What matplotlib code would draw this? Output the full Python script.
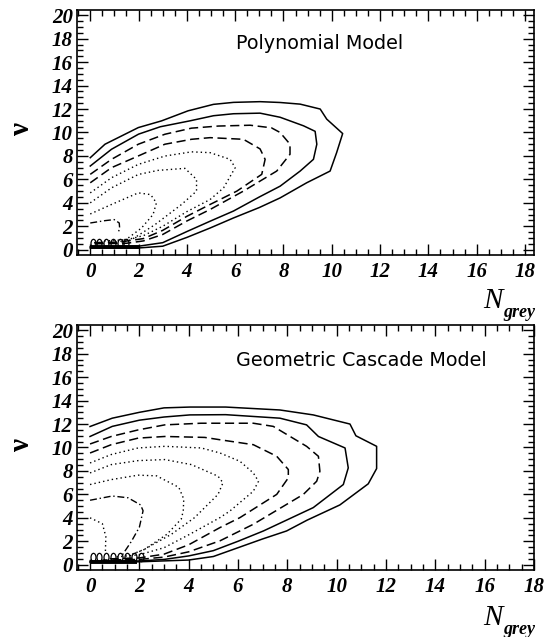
import matplotlib
matplotlib.use("Agg")
import matplotlib.pyplot as plt
from matplotlib.ticker import MultipleLocator
from matplotlib.path import Path
from matplotlib.transforms import Affine2D

# ---------------- data ----------------
# Top panel: Polynomial Model, contour lines (outer -> inner)
t1_x = [0, 0.61, 1.99, 2.95, 4.05, 5.1, 5.93, 7.03, 7.86, 8.69, 9.52, 9.79, 10.45, 10.2, 9.93, 8.96, 7.86, 7.0, 5.93, 4.96, 4.0, 3.0, 2.0, 0]
t1_y = [7.85, 9.0, 10.42, 10.99, 11.85, 12.4, 12.57, 12.63, 12.56, 12.42, 12.0, 11.14, 9.91, 8.28, 6.71, 5.71, 4.42, 3.6, 2.71, 1.85, 1.05, 0.3, 0.15, 0.15]
t2_x = [0, 0.88, 2.0, 2.9, 4.14, 5.1, 5.93, 7.03, 7.86, 8.83, 9.31, 9.38, 9.24, 8.69, 7.86, 7.0, 5.93, 4.96, 4.0, 3.0, 2.0, 0]
t2_y = [7.14, 8.57, 9.86, 10.49, 11.0, 11.43, 11.6, 11.65, 11.3, 10.57, 10.1, 9.0, 7.71, 6.71, 5.42, 4.5, 3.3, 2.43, 1.55, 0.6, 0.3, 0.25]
t3_x = [0, 0.88, 1.99, 3.09, 4.19, 5.3, 6.62, 7.5, 7.86, 8.27, 8.27, 7.72, 6.34, 4.96, 4.0, 3.0, 2.2, 1.5, 0]
t3_y = [6.43, 7.71, 9.0, 9.85, 10.37, 10.55, 10.62, 10.4, 10.0, 9.0, 8.14, 6.71, 5.0, 3.43, 2.45, 1.3, 0.75, 0.55, 0.5]
t4_x = [0, 0.88, 1.99, 3.09, 4.19, 4.96, 6.34, 7.03, 7.24, 7.1, 6.07, 4.96, 4.0, 3.0, 2.2, 1.2, 0]
t4_y = [5.71, 7.0, 8.0, 9.0, 9.42, 9.56, 9.42, 8.6, 7.71, 6.43, 5.0, 3.86, 2.85, 1.65, 0.95, 0.65, 0.6]
t5_x = [0, 0.88, 1.99, 3.09, 4.19, 4.96, 5.79, 6.0, 5.52, 4.96, 4.0, 3.0, 2.2, 1.5, 0.6]
t5_y = [4.85, 6.14, 7.28, 7.99, 8.35, 8.28, 7.71, 7.0, 5.28, 4.28, 3.25, 2.0, 1.2, 0.85, 0.75]
t6_x = [0, 0.88, 1.99, 2.81, 3.92, 4.4, 4.4, 3.78, 2.68, 1.71, 1.3]
t6_y = [4.0, 5.28, 6.42, 6.77, 6.94, 6.0, 5.0, 3.86, 2.14, 0.86, 0.6]
t7_x = [0, 0.88, 1.99, 2.5, 2.74, 2.6, 2.12, 1.57, 1.25]
t7_y = [3.05, 3.86, 4.85, 4.7, 4.0, 3.0, 1.85, 1.0, 0.7]
t8_x = [0, 0.61, 0.99, 1.2, 1.22, 1.15]
t8_y = [2.28, 2.48, 2.57, 2.28, 1.75, 1.5]
t_fringe_x = [0.1, 0.38, 0.66, 0.94, 1.22, 1.5]
t_fringe_y = [0.6, 0.6, 0.6, 0.6, 0.6, 0.6]
t_bar_x = [0.0, 2.0]
t_bar_y = [0.2, 0.2]

# Bottom panel: Geometric Cascade Model
b1_x = [0, 0.9, 2.0, 3.0, 4.05, 5.5, 7.7, 9.05, 10.54, 10.78, 11.62, 11.62, 11.28, 10.13, 8.8, 7.97, 7.0, 6.0, 5.0, 4.0, 2.0, 0]
b1_y = [11.79, 12.5, 13.0, 13.38, 13.45, 13.45, 13.2, 12.78, 12.0, 11.0, 10.1, 8.2, 6.9, 5.1, 3.8, 2.88, 2.2, 1.45, 0.7, 0.4, 0.25, 0.2]
b2_x = [0, 0.9, 2.0, 3.0, 4.05, 5.5, 7.7, 8.78, 9.26, 10.34, 10.47, 10.27, 9.05, 7.03, 6.0, 5.0, 4.0, 3.0, 2.0, 0]
b2_y = [10.94, 11.8, 12.33, 12.6, 12.78, 12.8, 12.5, 11.93, 10.94, 9.96, 8.26, 6.84, 4.87, 2.88, 2.0, 1.2, 0.75, 0.45, 0.32, 0.3]
b3_x = [0, 0.86, 1.95, 3.03, 4.5, 5.5, 6.62, 7.43, 8.78, 9.26, 9.32, 9.19, 8.65, 6.62, 5.27, 4.0, 3.0, 2.0, 0.5]
b3_y = [10.3, 10.94, 11.5, 11.93, 12.07, 12.07, 12.07, 11.8, 10.1, 9.25, 7.97, 7.12, 6.0, 3.45, 2.04, 1.1, 0.65, 0.45, 0.4]
b4_x = [0, 0.86, 1.95, 3.03, 4.65, 5.27, 6.62, 7.57, 8.04, 8.04, 7.57, 6.08, 5.27, 4.0, 3.0, 2.0, 0.8]
b4_y = [9.53, 10.24, 10.8, 10.94, 10.86, 10.66, 10.24, 9.25, 8.12, 7.41, 6.0, 4.02, 3.17, 1.7, 0.9, 0.58, 0.5]
b5_x = [0, 0.86, 1.95, 3.03, 4.51, 5.27, 6.08, 6.62, 6.83, 6.62, 5.67, 5.27, 4.0, 3.0, 2.0, 1.0]
b5_y = [8.68, 9.4, 9.96, 10.1, 9.96, 9.53, 8.82, 7.83, 7.12, 6.27, 4.58, 4.02, 2.55, 1.45, 0.85, 0.65]
b6_x = [0, 0.86, 1.95, 3.03, 4.11, 5.19, 5.39, 5.19, 4.24, 3.3, 2.22, 1.6]
b6_y = [7.83, 8.54, 8.88, 8.97, 8.54, 7.55, 6.99, 6.0, 4.02, 2.6, 1.33, 0.8]
b7_x = [0, 0.86, 1.95, 2.7, 3.6, 3.8, 3.78, 3.7, 3.12, 2.2, 1.74]
b7_y = [6.84, 7.26, 7.64, 7.58, 6.6, 5.6, 4.6, 3.9, 2.6, 1.3, 0.9]
b8_x = [0, 0.9, 1.54, 2.05, 2.15, 2.0, 1.68, 1.3]
b8_y = [5.5, 5.86, 5.71, 5.1, 4.6, 3.2, 2.0, 0.8]
b9_x = [0, 0.5, 0.64, 0.62]
b9_y = [4.0, 3.5, 2.4, 0.9]
b_fringe_x = [0.1, 0.38, 0.66, 0.94, 1.22, 1.5, 1.78, 2.06]
b_fringe_y = [0.65, 0.65, 0.65, 0.65, 0.65, 0.65, 0.65, 0.65]
b_bar_x = [0.0, 1.9]
b_bar_y = [0.2, 0.2]

x_ticks = [0, 2, 4, 6, 8, 10, 12, 14, 16, 18]
y_ticks = [0, 2, 4, 6, 8, 10, 12, 14, 16, 18, 20]
titles = ["Polynomial Model", "Geometric Cascade Model"]

# ---------------- styles ----------------
SOLID = dict(ls="-", lw=1.1)
DASH = dict(ls=(0, (6, 3)), lw=1.1)
DOT = dict(ls=(0, (1, 2.2)), lw=1.0)
DASHDOT = dict(ls=(0, (5, 2, 1, 2)), lw=1.0)

tickfont = dict(family="Liberation Serif", weight="bold", style="italic", size=15)

fig = plt.figure(figsize=(5.59, 6.37), dpi=100)
ax_top = fig.add_axes([0.1377, 0.5997, 0.8175, 0.3846])
ax_bot = fig.add_axes([0.1377, 0.1052, 0.8175, 0.3846])

top_lines = [(t1_x, t1_y, SOLID), (t2_x, t2_y, SOLID), (t3_x, t3_y, DASH), (t4_x, t4_y, DASH),
             (t5_x, t5_y, DOT), (t6_x, t6_y, DOT), (t7_x, t7_y, DOT), (t8_x, t8_y, DASHDOT)]
bot_lines = [(b1_x, b1_y, SOLID), (b2_x, b2_y, SOLID), (b3_x, b3_y, DASH), (b4_x, b4_y, DASH),
             (b5_x, b5_y, DOT), (b6_x, b6_y, DOT), (b7_x, b7_y, DOT), (b8_x, b8_y, DASHDOT),
             (b9_x, b9_y, DOT)]

oval = Affine2D().scale(0.6, 1.0).transform_path(Path.unit_circle())

def style_axes(ax, xlim):
    ax.set_xlim(*xlim)
    ax.set_ylim(-0.45, 20.45)
    ax.set_xticks(x_ticks)
    ax.set_yticks(y_ticks)
    ax.xaxis.set_minor_locator(MultipleLocator(0.5))
    ax.yaxis.set_minor_locator(MultipleLocator(0.5))
    ax.tick_params(which="both", direction="in", top=True, right=True, color="black")
    ax.tick_params(which="major", length=8, width=1.0)
    ax.tick_params(which="minor", length=4, width=1.0)
    ax.tick_params(axis="y", pad=3)
    ax.tick_params(axis="x", pad=5)
    for s in ax.spines.values():
        s.set_linewidth(1.2)
    ax.set_xticklabels([str(v) for v in x_ticks], fontdict=tickfont)
    ax.set_yticklabels([str(v) for v in y_ticks], fontdict=tickfont)

for ax, lines, fx, fy, bx, by, xlim in [
    (ax_top, top_lines, t_fringe_x, t_fringe_y, t_bar_x, t_bar_y, (-0.55, 18.37)),
    (ax_bot, bot_lines, b_fringe_x, b_fringe_y, b_bar_x, b_bar_y, (-0.53, 18.0)),
]:
    for xs, ys, st in lines:
        ax.plot(xs, ys, color="black", **st)
    ax.plot(fx, fy, ls="none", marker=oval, ms=6, mfc="none", mec="black", mew=0.9)
    ax.plot(bx, by, color="black", lw=2.8, solid_capstyle="butt")
    style_axes(ax, xlim)

ax_top.text(0.348, 0.865, titles[0], transform=ax_top.transAxes, ha="left", va="center",
            family="DejaVu Sans", fontsize=13.8)
ax_bot.text(0.348, 0.857, titles[1], transform=ax_bot.transAxes, ha="left", va="center",
            family="DejaVu Sans", fontsize=13.8)

# y labels (nu) and x labels (N_grey)
for ypx in [130, 446]:
    fig.text(22 / 559, 1 - ypx / 637, "ν", rotation=90, ha="center", va="center",
             family="Liberation Serif", weight="bold", fontsize=21)
for base in [308, 625]:
    fig.text(483 / 559, 1 - base / 637, "N", ha="left", va="baseline",
             family="Liberation Serif", style="italic", fontsize=21)
    fig.text(503 / 559, 1 - (base + 9) / 637, "grey", ha="left", va="baseline",
             family="Liberation Serif", style="italic", weight="bold", fontsize=13)

fig.savefig("out.png", dpi=100)
